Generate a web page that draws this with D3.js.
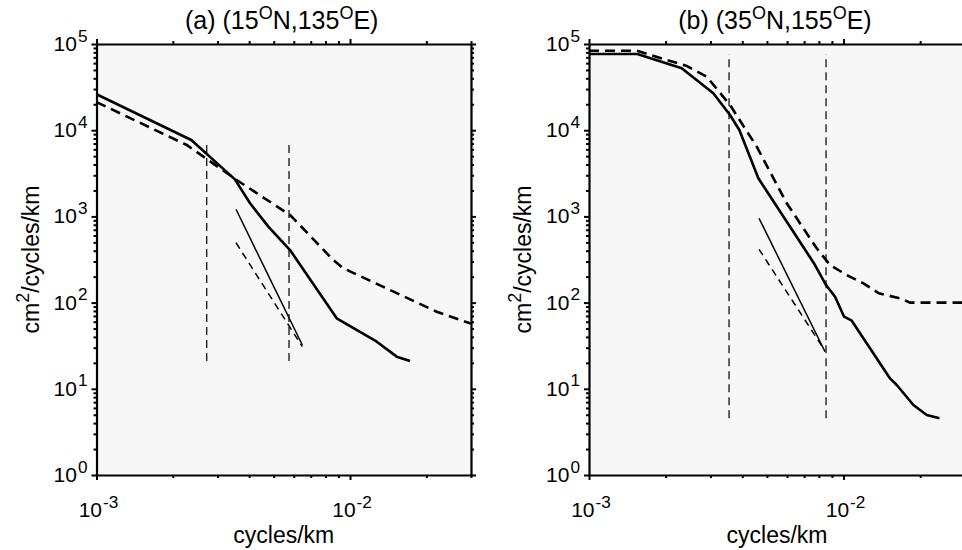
<!DOCTYPE html>
<html>
<head>
<meta charset="utf-8">
<script src="https://cdn.jsdelivr.net/npm/d3@7"></script>
<style>
  body { margin: 0; background: #fff; }
  svg { display: block; font-family: "Liberation Sans", Arial, Helvetica, sans-serif; }
</style>
</head>
<body>
<svg id="chart" width="962" height="550"></svg>
<script>
// panel (a) (15N,135E)
const aSolidK = [0.001, 0.002365, 0.003515, 0.004033, 0.004762, 0.0058, 0.00886, 0.01275, 0.01528, 0.01725];
const aSolidP = [26100, 7700, 2690, 1420, 760, 407, 65.7, 35.2, 23.6, 21.0];
const aDashK = [0.001, 0.002269, 0.003572, 0.0058, 0.00859, 0.00941, 0.0139, 0.02198, 0.03];
const aDashP = [21200, 6735, 2643, 1038, 312, 250, 146.6, 78.4, 57];
const aVertK = [0.002721, 0.005745];
const aVertP = [21, 7600];
const aRefK = [0.00355, 0.006483];
const aRefSolidP = [1209, 32.2];
const aRefDashP = [495, 30.8];

// panel (b) (35N,155E)
const bSolidK = [0.001, 0.001548, 0.002313, 0.003079, 0.003581, 0.003896, 0.004627, 0.006165, 0.007727, 0.008535, 0.009261, 0.01005, 0.01077, 0.01523, 0.01618, 0.01881, 0.02123, 0.02381];
const bSolidP = [76500, 76500, 52200, 26800, 15000, 10050, 2767, 760, 273, 160, 117, 68.6, 61.7, 13.2, 11.06, 6.49, 4.97, 4.55];
const bDashK = [0.001, 0.00154, 0.002419, 0.0029, 0.003581, 0.00456, 0.005982, 0.007845, 0.00885, 0.01029, 0.01197, 0.01377, 0.01669, 0.01825, 0.03];
const bDashP = [83600, 83600, 55600, 41800, 19600, 6440, 1419, 426, 273, 209, 167, 128, 112, 100, 100];
const bVertK = [0.003549, 0.008535];
const bVertP = [4.55, 76500];
const bRefK = [0.004656, 0.008459];
const bRefSolidP = [950, 26.9];
const bRefDashP = [415, 27.5];

// axes
const xDomain = [0.001, 0.03];
const yDomain = [1, 1e5];
const xMajor = [1e-3, 1e-2];
const yMajor = [1e0, 1e1, 1e2, 1e3, 1e4, 1e5];
const xMinor = [2e-3, 3e-3, 4e-3, 5e-3, 6e-3, 7e-3, 8e-3, 9e-3, 2e-2, 3e-2];
const yMinor = d3.range(0, 5).flatMap(e => d3.range(2, 10).map(m => m * Math.pow(10, e)));

const svg = d3.select('#chart');

// "10" with a raised exponent
function supLabel(sel, base, exp, size) {
  sel.text(null);
  sel.append('tspan').text(base);
  sel.append('tspan').attr('dx', 1).attr('dy', -0.45 * size)
    .attr('font-size', size * 0.82).text(exp);
}

function drawPanel(cfg) {
  const x = d3.scaleLog().domain(xDomain).range([cfg.left, cfg.right]);
  const y = d3.scaleLog().domain(yDomain).range([cfg.bottom, cfg.top]);

  const g = svg.append('g');
  const clipId = 'clip-' + cfg.id;
  g.append('clipPath').attr('id', clipId)
    .append('rect')
    .attr('x', cfg.left).attr('y', cfg.top)
    .attr('width', cfg.right - cfg.left).attr('height', cfg.bottom - cfg.top);

  // plot background
  g.append('rect')
    .attr('x', cfg.left).attr('y', cfg.top)
    .attr('width', cfg.right - cfg.left).attr('height', cfg.bottom - cfg.top)
    .attr('fill', '#f7f7f7');

  const plot = g.append('g').attr('clip-path', `url(#${clipId})`);
  const line = d3.line().x(d => x(d[0])).y(d => y(d[1]));

  // vertical band markers
  cfg.vertK.forEach(k => {
    plot.append('path')
      .attr('d', line([[k, cfg.vertP[0]], [k, cfg.vertP[1]]]))
      .attr('fill', 'none').attr('stroke', '#111')
      .attr('stroke-width', 1.3).attr('stroke-dasharray', '8,5');
  });

  // reference slopes
  plot.append('path')
    .attr('d', line(d3.zip(cfg.refK, cfg.refSolidP)))
    .attr('fill', 'none').attr('stroke', '#000').attr('stroke-width', 1.5);
  plot.append('path')
    .attr('d', line(d3.zip(cfg.refK, cfg.refDashP)))
    .attr('fill', 'none').attr('stroke', '#000').attr('stroke-width', 1.5)
    .attr('stroke-dasharray', '7,5');

  // spectra
  plot.append('path')
    .attr('d', line(d3.zip(cfg.dashK, cfg.dashP)))
    .attr('fill', 'none').attr('stroke', '#000').attr('stroke-width', 2.6)
    .attr('stroke-dasharray', '10,6');
  plot.append('path')
    .attr('d', line(d3.zip(cfg.solidK, cfg.solidP)))
    .attr('fill', 'none').attr('stroke', '#000').attr('stroke-width', 2.6)
    .attr('stroke-linejoin', 'round');

  // frame ticks on four sides
  const axes = [
    { ax: d3.axisBottom, sc: x, major: xMajor, minor: xMinor, tr: `translate(0,${cfg.bottom})` },
    { ax: d3.axisTop, sc: x, major: xMajor, minor: xMinor, tr: `translate(0,${cfg.top})` },
    { ax: d3.axisLeft, sc: y, major: yMajor, minor: yMinor, tr: `translate(${cfg.left},0)` },
    { ax: d3.axisRight, sc: y, major: yMajor, minor: yMinor, tr: `translate(${cfg.right},0)` }
  ];
  axes.forEach(a => {
    const minorG = g.append('g').attr('transform', a.tr)
      .call(a.ax(a.sc).tickValues(a.minor).tickSize(3).tickSizeOuter(0).tickFormat(''));
    minorG.select('.domain').remove();
    minorG.selectAll('line').attr('stroke-width', 2);
    const majorG = g.append('g').attr('transform', a.tr)
      .call(a.ax(a.sc).tickValues(a.major).tickSize(5).tickSizeOuter(0).tickFormat(''));
    majorG.select('.domain').attr('stroke-width', 2.2);
    majorG.selectAll('line').attr('stroke-width', 2);
  });

  // tick labels
  const fs = 21;
  g.selectAll('.xlab').data(xMajor).enter().append('text')
    .attr('x', d => x(d) + 2).attr('y', cfg.bottom + 42)
    .attr('text-anchor', 'middle').attr('font-size', fs)
    .each(function (d) { supLabel(d3.select(this), '10', String(Math.round(Math.log10(d))), fs); });
  g.selectAll('.ylab').data(yMajor).enter().append('text')
    .attr('x', cfg.left - 9).attr('y', d => y(d) + 7)
    .attr('text-anchor', 'end').attr('font-size', fs)
    .each(function (d) { supLabel(d3.select(this), '10', String(Math.round(Math.log10(d))), fs); });

  // axis titles
  g.append('text')
    .attr('x', (cfg.left + cfg.right) / 2).attr('y', 543)
    .attr('text-anchor', 'middle').attr('font-size', 23)
    .text('cycles/km');
  const yl = g.append('text')
    .attr('transform', `translate(${cfg.left - 58},${(cfg.top + cfg.bottom) / 2}) rotate(-90)`)
    .attr('text-anchor', 'middle').attr('font-size', 23);
  yl.append('tspan').text('cm');
  yl.append('tspan').attr('dy', -10).attr('font-size', 18).text('2');
  yl.append('tspan').attr('dy', 10).text('/cycles/km');

  // panel title
  const t = g.append('text')
    .attr('x', (cfg.left + cfg.right) / 2 - 2).attr('y', 29)
    .attr('text-anchor', 'middle').attr('font-size', 25);
  cfg.title.forEach(p => {
    const ts = t.append('tspan').text(p[0]);
    if (p[1] === 'sup') ts.attr('dy', -10).attr('font-size', 18);
    if (p[1] === 'down') ts.attr('dy', 10);
  });
}

drawPanel({
  id: 'a', left: 96.5, right: 471, top: 44, bottom: 475,
  solidK: aSolidK, solidP: aSolidP, dashK: aDashK, dashP: aDashP,
  vertK: aVertK, vertP: aVertP, refK: aRefK, refSolidP: aRefSolidP, refDashP: aRefDashP,
  title: [['(a) (15'], ['O', 'sup'], ['N,135', 'down'], ['O', 'sup'], ['E)', 'down']]
});

drawPanel({
  id: 'b', left: 589, right: 965, top: 44, bottom: 475,
  solidK: bSolidK, solidP: bSolidP, dashK: bDashK, dashP: bDashP,
  vertK: bVertK, vertP: bVertP, refK: bRefK, refSolidP: bRefSolidP, refDashP: bRefDashP,
  title: [['(b) (35'], ['O', 'sup'], ['N,155', 'down'], ['O', 'sup'], ['E)', 'down']]
});
</script>
</body>
</html>
